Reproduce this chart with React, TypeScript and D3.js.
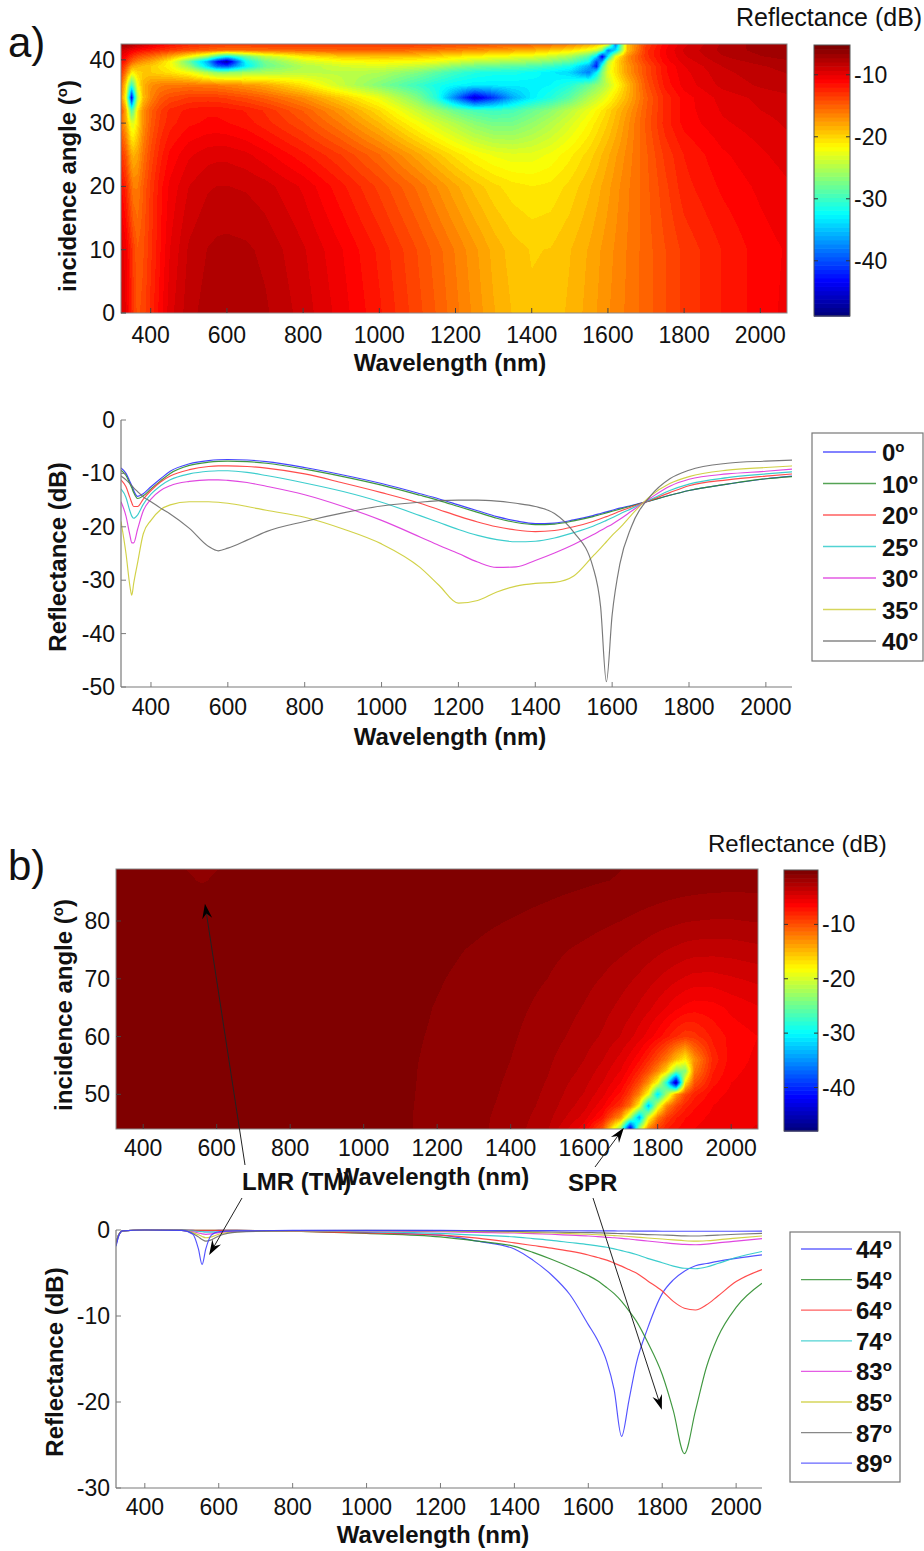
import React, { useMemo } from 'react';
import * as d3 from 'd3';

const FONT = "'Liberation Sans', Arial, Helvetica, sans-serif";

// ---------------- Panel a : line data (dB) ----------------
const WL_A = [322, 335, 345, 350, 355, 365, 380, 400, 425, 450, 500, 550, 575, 600, 650, 700, 800, 900, 1000, 1100, 1150, 1200, 1250, 1300, 1350, 1400, 1450, 1500, 1550, 1570, 1585, 1600, 1620, 1650, 1700, 1750, 1800, 1900, 2000, 2068];
const A_0 = [-9.0, -10.0, -11.5, -12.3, -13.2, -14.3, -13.8, -12.5, -11.0, -9.6, -8.2, -7.6, -7.45, -7.4, -7.5, -7.8, -8.9, -10.3, -11.9, -13.8, -14.8, -15.9, -17.0, -18.1, -18.9, -19.4, -19.3, -18.7, -17.9, -17.5, -17.2, -16.9, -16.5, -16.0, -15.1, -14.1, -13.2, -12.0, -11.0, -10.5];
const A_10 = [-9.4, -10.4, -11.9, -12.7, -13.6, -14.7, -14.2, -12.9, -11.4, -10.0, -8.5, -7.9, -7.75, -7.7, -7.8, -8.1, -9.2, -10.6, -12.2, -14.1, -15.1, -16.2, -17.3, -18.4, -19.2, -19.6, -19.5, -18.9, -18.1, -17.7, -17.4, -17.1, -16.7, -16.1, -15.1, -14.1, -13.2, -12.0, -11.0, -10.6];
const A_20 = [-11.2, -12.5, -14.5, -15.5, -16.2, -16.2, -14.8, -13.2, -11.6, -10.5, -9.3, -8.7, -8.6, -8.6, -8.7, -9.0, -10.1, -11.8, -13.6, -15.6, -16.8, -18.0, -19.1, -20.0, -20.6, -20.9, -20.7, -20.0, -19.0, -18.5, -18.1, -17.7, -17.1, -16.3, -15.0, -13.6, -12.3, -11.2, -10.5, -10.1];
const A_25 = [-12.9, -14.5, -17.0, -18.0, -18.4, -17.8, -15.8, -13.9, -12.3, -11.2, -10.1, -9.6, -9.5, -9.5, -9.8, -10.4, -11.8, -13.4, -15.4, -17.9, -19.2, -20.5, -21.6, -22.4, -22.8, -22.7, -22.1, -21.1, -19.9, -19.3, -18.8, -18.3, -17.6, -16.6, -14.9, -13.2, -12.0, -10.8, -10.1, -9.7];
const A_30 = [-15.3, -18.0, -21.5, -23.0, -23.0, -20.5, -17.0, -14.8, -13.2, -12.3, -11.5, -11.2, -11.2, -11.3, -11.7, -12.4, -14.0, -16.2, -18.8, -21.9, -23.5, -25.0, -26.6, -27.6, -27.5, -26.3, -24.9, -23.3, -21.5, -20.7, -20.1, -19.5, -18.6, -17.1, -14.6, -12.4, -11.1, -10.1, -9.6, -9.2];
const A_35 = [-19.0, -25.0, -31.0, -32.8, -30.6, -26.8, -21.3, -18.8, -16.8, -15.9, -15.3, -15.3, -15.4, -15.6, -16.2, -16.9, -18.2, -20.4, -23.2, -27.6, -31.0, -34.3, -33.8, -32.2, -31.1, -30.6, -30.4, -29.2, -25.5, -24.0, -22.8, -21.6, -20.2, -17.8, -14.2, -11.9, -10.6, -9.4, -8.9, -8.6];
const A_40 = [-10.5, -11.2, -11.9, -12.3, -12.7, -13.4, -14.4, -15.3, -16.5, -17.6, -20.3, -23.7, -24.5, -24.0, -22.5, -20.9, -19.0, -17.4, -16.1, -15.4, -15.1, -15.0, -15.0, -15.2, -15.6, -16.2, -17.5, -21.0, -27.5, -35.0, -49.0, -36.5, -27.0, -20.0, -14.2, -11.0, -9.4, -8.1, -7.7, -7.5];
const SERIES_A_LABELS = ['0', '10', '20', '25', '30', '35', '40'];
const SERIES_A_VALUES = [A_0, A_10, A_20, A_25, A_30, A_35, A_40];
const SERIES_A_COLORS = ['#3030ff', '#2a8c2a', '#ff3838', '#27c8c8', '#dd33dd', '#cccc33', '#6a6a6a'];

// ---------------- Panel a : heatmap rows above 30 deg (dB, on WL_A) ----------------
const HA_32 = [-14, -18, -26, -29, -27, -21, -17, -15, -13.5, -12.5, -11.8, -11.5, -11.5, -11.7, -12.1, -12.8, -14.8, -17.3, -20.2, -24.0, -26.0, -28.0, -29.5, -30.0, -29.5, -28.0, -26.5, -24.5, -22.5, -21.5, -20.8, -20.0, -19.0, -17.5, -14.8, -12.5, -11.0, -9.9, -9.3, -9.0];
const HA_34 = [-16, -22, -36, -44, -36, -25, -19, -16.5, -14.8, -14, -13.3, -13.2, -13.3, -13.5, -14.1, -14.9, -16.8, -19.5, -22.5, -27, -31, -38, -45, -41, -36, -33, -31, -28.5, -25, -24, -23, -22, -20.5, -18.5, -15, -12.5, -11, -9.7, -9.1, -8.8];
const HA_36 = [-15, -20, -28, -30, -28, -22, -18.5, -17, -16.3, -16, -15.8, -16, -16.2, -16.5, -17.2, -18, -20.5, -24, -27, -30, -31.5, -32.5, -33, -33, -33, -33, -32.5, -31, -28, -26.5, -25.5, -24, -22, -19, -14.5, -11.8, -10.4, -9.1, -8.5, -8.2];
const HA_38 = [-13, -16, -19, -21, -21, -20, -19.5, -19.5, -20, -20.5, -22, -25, -26.5, -26.5, -25.5, -25, -24.5, -24.5, -25, -27, -28.5, -30, -31, -31.5, -31.5, -32, -33, -34, -38, -33, -27, -23, -20.5, -17.5, -14, -11.5, -10.2, -8.8, -8.2, -7.9];
const HA_39 = [-12, -14, -16.5, -17.5, -18, -18.5, -19, -19.5, -20.5, -21.5, -26, -34, -39, -40, -33, -28, -25, -23.5, -23, -24, -25, -26.5, -27.5, -28, -28.5, -29, -30, -31.5, -36, -42, -30, -23.5, -20.5, -17.5, -14, -11.5, -10, -8.6, -8, -7.7];
const HA_39_7 = [-11, -12.5, -14, -14.8, -15.5, -16.3, -17.2, -18, -19.5, -21.5, -28, -36, -43, -47, -32, -27.5, -23.5, -22, -21.5, -22, -22.5, -23.5, -24.5, -25, -25.5, -26, -27, -28.5, -32, -40, -36, -25, -20.5, -17, -13.5, -11, -9.7, -8.3, -7.7, -7.4];
const HA_40_5 = [-10, -11, -12.3, -12.8, -13.3, -14, -14.8, -15.5, -16.7, -18, -21.5, -26, -30, -33, -28, -24.5, -21, -19.5, -19, -19.5, -20, -20.8, -21.5, -22, -22.5, -23, -24, -25.5, -29, -34, -44, -33, -22, -17, -13, -10.8, -9.4, -8, -7.3, -7];
const HA_41_5 = [-9, -9.5, -10, -10.3, -10.6, -11, -11.5, -12, -12.7, -13.3, -14.3, -15, -15.5, -15.8, -15.8, -15.5, -15.2, -15, -15, -15.5, -16, -16.5, -17, -17.5, -18, -18.5, -19.5, -20.5, -22.5, -24, -27, -38, -34, -19, -13, -10.7, -9.2, -7.7, -7, -6.7];
const HA_42_5 = [-6.5, -6.8, -7.2, -7.5, -7.8, -8.2, -8.8, -9.5, -10.5, -11.3, -12.3, -12.8, -13, -13, -13, -13, -13, -13, -13, -13.2, -13.4, -13.6, -13.8, -14, -14.2, -14.5, -15, -15.8, -17.5, -18.5, -19.5, -21, -38, -19, -13.5, -11, -9.5, -7.8, -6.9, -6.5];
const HA_ANGLES = [0, 10, 20, 25, 30, 32, 34, 36, 38, 39, 39.7, 40.5, 41.5, 42.5];
const HA_ROWS = [A_0, A_10, A_20, A_25, A_30, HA_32, HA_34, HA_36, HA_38, HA_39, HA_39_7, HA_40_5, HA_41_5, HA_42_5];

// ---------------- Panel b : line data (dB) ----------------
const WL_B = [322, 330, 340, 400, 500, 530, 545, 555, 565, 580, 600, 650, 800, 1000, 1200, 1300, 1400, 1450, 1500, 1550, 1600, 1625, 1650, 1670, 1690, 1710, 1730, 1760, 1800, 1830, 1860, 1890, 1920, 1950, 2000, 2070];
const B_44 = [-1.8, -0.6, -0.1, 0, 0, -0.05, -0.1, -0.1, -0.1, -0.1, -0.05, -0.05, -0.1, -0.3, -0.6, -1.3, -2.2, -3.5, -5.2, -7.5, -11.0, -12.8, -15.3, -18.6, -24.0, -19.8, -15.5, -11.5, -7.4, -5.8, -4.8, -4.15, -3.9, -3.65, -3.3, -2.9];
const B_54 = [-1.6, -0.5, -0.1, 0, 0, -0.05, -0.05, -0.05, -0.05, -0.05, -0.05, -0.05, -0.15, -0.4, -0.8, -1.3, -1.9, -2.6, -3.4, -4.3, -5.3, -5.9, -6.7, -7.4, -8.3, -9.4, -10.6, -13.0, -16.8, -21.0, -26.0, -21.0, -15.9, -12.5, -9.0, -6.2];
const B_64 = [-1.6, -0.5, -0.1, 0, 0, -0.05, -0.05, -0.05, -0.05, -0.05, -0.05, -0.05, -0.15, -0.35, -0.6, -0.95, -1.5, -1.8, -2.1, -2.45, -2.9, -3.2, -3.5, -3.85, -4.2, -4.6, -5.0, -5.9, -7.1, -8.3, -9.1, -9.3, -8.7, -7.7, -6.0, -4.6];
const B_74 = [-1.5, -0.5, -0.1, 0, 0, -0.1, -0.15, -0.2, -0.25, -0.25, -0.2, -0.1, -0.1, -0.2, -0.4, -0.6, -0.8, -1.0, -1.2, -1.45, -1.7, -1.85, -2.0, -2.2, -2.4, -2.6, -2.85, -3.3, -3.8, -4.2, -4.45, -4.5, -4.3, -3.9, -3.2, -2.5];
const B_83 = [-1.5, -0.5, -0.1, 0, -0.05, -0.2, -0.35, -0.45, -0.5, -0.45, -0.3, -0.15, -0.1, -0.1, -0.2, -0.28, -0.35, -0.42, -0.5, -0.6, -0.7, -0.77, -0.85, -0.9, -0.97, -1.05, -1.15, -1.28, -1.45, -1.58, -1.68, -1.72, -1.65, -1.5, -1.3, -1.0];
const B_85 = [-1.5, -0.5, -0.1, 0, -0.05, -0.3, -0.55, -0.75, -0.9, -0.8, -0.5, -0.2, -0.1, -0.08, -0.12, -0.18, -0.25, -0.3, -0.35, -0.42, -0.5, -0.55, -0.6, -0.65, -0.7, -0.76, -0.83, -0.93, -1.05, -1.15, -1.25, -1.3, -1.25, -1.15, -0.95, -0.7];
const B_87 = [-1.5, -0.5, -0.1, 0, -0.05, -0.4, -0.8, -1.1, -1.3, -1.15, -0.7, -0.25, -0.08, -0.05, -0.08, -0.12, -0.16, -0.2, -0.23, -0.27, -0.3, -0.33, -0.36, -0.39, -0.42, -0.45, -0.48, -0.53, -0.58, -0.63, -0.68, -0.7, -0.66, -0.6, -0.5, -0.4];
const B_89 = [-1.9, -0.6, -0.1, 0, -0.05, -0.5, -2.2, -4.0, -2.2, -0.6, -0.2, -0.1, -0.05, -0.05, -0.05, -0.06, -0.07, -0.08, -0.08, -0.09, -0.1, -0.1, -0.11, -0.11, -0.12, -0.12, -0.13, -0.13, -0.14, -0.14, -0.15, -0.15, -0.15, -0.15, -0.14, -0.13];
const SERIES_B_LABELS = ['44', '54', '64', '74', '83', '85', '87', '89'];
const SERIES_B_VALUES = [B_44, B_54, B_64, B_74, B_83, B_85, B_87, B_89];
const SERIES_B_COLORS = ['#4040ff', '#2a8c2a', '#ff3838', '#27c8c8', '#dd33dd', '#cccc33', '#6a6a6a', '#4040ff'];

// ---------------- Panel b : heatmap grid (dB) ----------------
const HB_WL = [325, 450, 520, 560, 600, 700, 900, 1100, 1200, 1300, 1400, 1500, 1600, 1650, 1700, 1725, 1750, 1775, 1800, 1825, 1850, 1875, 1900, 1950, 2000, 2073];
const HB_44 = [-0.3, -0.2, -0.2, -0.2, -0.2, -0.2, -0.3, -0.65, -0.95, -1.3, -1.8, -2.9, -5.8, -10, -24, -45, -22, -12, -9, -7.5, -6.8, -6.3, -6, -5.6, -5.4, -5.2];
const HB_46 = [-0.3, -0.2, -0.2, -0.2, -0.2, -0.2, -0.3, -0.65, -0.95, -1.3, -1.75, -2.7, -4.8, -7, -13, -22, -34, -19, -12, -9, -7.6, -6.8, -6.3, -5.8, -5.5, -5.3];
const HB_48 = [-0.3, -0.2, -0.2, -0.2, -0.2, -0.2, -0.3, -0.65, -0.92, -1.25, -1.7, -2.5, -4.2, -5.8, -8.5, -11.5, -18, -33, -20, -12.5, -9.5, -7.8, -6.9, -6, -5.6, -5.4];
const HB_50 = [-0.3, -0.2, -0.2, -0.2, -0.2, -0.2, -0.3, -0.65, -0.9, -1.2, -1.65, -2.4, -3.8, -5, -7, -9, -12.5, -18.5, -31, -22, -13.5, -9.5, -7.8, -6.3, -5.8, -5.5];
const HB_52 = [-0.3, -0.2, -0.2, -0.2, -0.2, -0.2, -0.3, -0.65, -0.88, -1.18, -1.6, -2.3, -3.5, -4.5, -6, -7.5, -9.5, -13, -18.5, -29, -46, -17, -10, -7, -6, -5.6];
const HB_54 = [-0.3, -0.2, -0.2, -0.2, -0.2, -0.2, -0.3, -0.65, -0.87, -1.15, -1.55, -2.2, -3.2, -4.1, -5.3, -6.4, -7.8, -9.8, -12.5, -16.5, -24, -24, -12, -7.6, -6.2, -5.7];
const HB_56 = [-0.3, -0.2, -0.2, -0.2, -0.2, -0.2, -0.3, -0.65, -0.85, -1.12, -1.5, -2.1, -3, -3.7, -4.8, -5.6, -6.6, -8, -9.8, -12, -15, -17.5, -13, -8, -6.4, -5.8];
const HB_60 = [-0.3, -0.2, -0.2, -0.2, -0.2, -0.2, -0.3, -0.62, -0.82, -1.05, -1.4, -1.9, -2.6, -3.1, -3.8, -4.3, -4.9, -5.6, -6.4, -7.3, -8.2, -8.8, -8.6, -7.3, -6.5, -6];
const HB_65 = [-0.3, -0.2, -0.2, -0.2, -0.2, -0.2, -0.3, -0.55, -0.78, -1.0, -1.3, -1.7, -2.3, -2.7, -3.2, -3.5, -3.9, -4.3, -4.8, -5.3, -5.8, -6.2, -6.4, -6.3, -5.8, -5.3];
const HB_70 = [-0.3, -0.2, -0.2, -0.2, -0.2, -0.2, -0.3, -0.45, -0.7, -0.92, -1.2, -1.5, -2.0, -2.3, -2.7, -2.9, -3.15, -3.45, -3.75, -4.05, -4.35, -4.6, -4.8, -4.8, -4.6, -4.3];
const HB_75 = [-0.3, -0.2, -0.2, -0.2, -0.2, -0.2, -0.3, -0.4, -0.6, -0.8, -1.05, -1.3, -1.65, -1.85, -2.1, -2.25, -2.4, -2.6, -2.8, -3.0, -3.15, -3.3, -3.4, -3.45, -3.4, -3.2];
const HB_80 = [-0.3, -0.2, -0.2, -0.2, -0.2, -0.2, -0.3, -0.3, -0.45, -0.6, -0.77, -0.95, -1.2, -1.35, -1.5, -1.6, -1.7, -1.8, -1.9, -2.0, -2.1, -2.2, -2.25, -2.3, -2.3, -2.2];
const HB_85 = [-0.3, -0.2, -0.25, -0.3, -0.25, -0.2, -0.2, -0.2, -0.3, -0.4, -0.52, -0.65, -0.8, -0.9, -1.0, -1.05, -1.1, -1.16, -1.22, -1.28, -1.33, -1.38, -1.42, -1.48, -1.5, -1.48];
const HB_87 = [-0.3, -0.25, -0.5, -0.9, -0.5, -0.2, -0.15, -0.15, -0.22, -0.3, -0.4, -0.52, -0.65, -0.72, -0.8, -0.85, -0.9, -0.95, -1.0, -1.05, -1.1, -1.13, -1.16, -1.2, -1.22, -1.2];
const HB_89 = [-0.3, -0.3, -0.8, -1.2, -0.8, -0.25, -0.12, -0.12, -0.18, -0.25, -0.33, -0.43, -0.55, -0.65, -0.74, -0.78, -0.82, -0.86, -0.9, -0.94, -0.97, -1.0, -1.02, -1.05, -1.06, -1.05];
const HB_ANGLES = [44, 46, 48, 50, 52, 54, 56, 60, 65, 70, 75, 80, 85, 87, 89];
const HB_ROWS = [HB_44, HB_46, HB_48, HB_50, HB_52, HB_54, HB_56, HB_60, HB_65, HB_70, HB_75, HB_80, HB_85, HB_87, HB_89];

// ---------------- ticks ----------------
const X_TICKS = [400, 600, 800, 1000, 1200, 1400, 1600, 1800, 2000];
const HA_Y_TICKS = [0, 10, 20, 30, 40];
const LA_Y_TICKS = [0, -10, -20, -30, -40, -50];
const HB_Y_TICKS = [50, 60, 70, 80];
const LB_Y_TICKS = [0, -10, -20, -30];
const CB_TICKS = [-10, -20, -30, -40];
const CB_A_DOMAIN: [number, number] = [-48.9, -5.2];
const CB_B_DOMAIN: [number, number] = [-48, 0];

// ---------------- scales ----------------
const xHA = d3.scaleLinear().domain([322, 2070]).range([121, 787]);
const yHA = d3.scaleLinear().domain([0, 42.5]).range([313, 44]);
const xLA = d3.scaleLinear().domain([322, 2068]).range([121, 792]);
const yLA = d3.scaleLinear().domain([-50, 0]).range([687, 420]);
const xHB = d3.scaleLinear().domain([326, 2073]).range([116, 758]);
const yHB = d3.scaleLinear().domain([44, 89]).range([1129, 869]);
const xLB = d3.scaleLinear().domain([322, 2070]).range([116, 762]);
const yLB = d3.scaleLinear().domain([-30, 0]).range([1488, 1230]);
const cA = d3.scaleLinear().domain(CB_A_DOMAIN).range([316, 45]);
const cB = d3.scaleLinear().domain(CB_B_DOMAIN).range([1131, 870]);

// jet colormap, 64 levels
function jet(t: number) {
  const c = (v: number) => Math.max(0, Math.min(1, v));
  return {
    r: Math.round(255 * c(Math.min(4 * t - 1.5, -4 * t + 4.5))),
    g: Math.round(255 * c(Math.min(4 * t - 0.5, -4 * t + 3.5))),
    b: Math.round(255 * c(Math.min(4 * t + 0.5, -4 * t + 2.5))),
  };
}
const JET_RGB = d3.range(64).map((k) => jet(k / 63));
const JET_HEX = JET_RGB.map((c) => d3.rgb(c.r, c.g, c.b).formatHex());

function sampleGrid(xs: number[], ys: number[], rows: number[][], x: number, y: number) {
  const i = Math.max(0, Math.min(xs.length - 2, d3.bisectRight(xs, x) - 1));
  const j = Math.max(0, Math.min(ys.length - 2, d3.bisectRight(ys, y) - 1));
  const tx = Math.max(0, Math.min(1, (x - xs[i]) / (xs[i + 1] - xs[i])));
  const ty = Math.max(0, Math.min(1, (y - ys[j]) / (ys[j + 1] - ys[j])));
  const a = rows[j][i] * (1 - tx) + rows[j][i + 1] * tx;
  const b = rows[j + 1][i] * (1 - tx) + rows[j + 1][i + 1] * tx;
  return a * (1 - ty) + b * ty;
}

function HeatImage({ xs, ys, rows, x, y, domain }: any) {
  const [x0, x1] = x.range();
  const [yb, yt] = y.range();
  const w = Math.round(x1 - x0);
  const h = Math.round(yb - yt);
  const href = useMemo(() => {
    const canvas = document.createElement('canvas');
    canvas.width = w;
    canvas.height = h;
    const ctx = canvas.getContext('2d');
    if (!ctx) return '';
    const img = ctx.createImageData(w, h);
    const q = d3.scaleQuantize<number>().domain(domain).range(d3.range(64));
    for (let py = 0; py < h; py++) {
      const th = y.invert(yt + py + 0.5);
      for (let px = 0; px < w; px++) {
        const lam = x.invert(x0 + px + 0.5);
        const c = JET_RGB[q(sampleGrid(xs, ys, rows, lam, th))];
        const o = (py * w + px) * 4;
        img.data[o] = c.r;
        img.data[o + 1] = c.g;
        img.data[o + 2] = c.b;
        img.data[o + 3] = 255;
      }
    }
    ctx.putImageData(img, 0, 0);
    return canvas.toDataURL('image/png');
  }, [xs, ys, rows, w, h]);
  return <image href={href} x={x0} y={yt} width={w} height={h} preserveAspectRatio="none" />;
}

const AXIS = '#7a7a7a';

function XAxis({ x, y0, ticks, labelY, tickColor = AXIS, drawLine = true }: any) {
  const [r0, r1] = x.range();
  return (
    <g>
      {drawLine && <line x1={r0} x2={r1} y1={y0} y2={y0} stroke={AXIS} strokeWidth={1.2} />}
      {ticks.map((t: number) => (
        <g key={t}>
          <line x1={x(t)} x2={x(t)} y1={y0} y2={y0 - 5} stroke={tickColor} strokeWidth={1} />
          <text x={x(t)} y={labelY} textAnchor="middle" fontSize={23} fill="#111">{t}</text>
        </g>
      ))}
    </g>
  );
}

function YAxis({ y, x0, ticks, labelX, tickColor = AXIS, drawLine = true }: any) {
  const [r0, r1] = y.range();
  return (
    <g>
      {drawLine && <line x1={x0} x2={x0} y1={r0} y2={r1} stroke={AXIS} strokeWidth={1.2} />}
      {ticks.map((t: number) => (
        <g key={t}>
          <line x1={x0} x2={x0 + 5} y1={y(t)} y2={y(t)} stroke={tickColor} strokeWidth={1} />
          <text x={labelX} y={y(t) + 8} textAnchor="end" fontSize={23} fill="#111">{t}</text>
        </g>
      ))}
    </g>
  );
}

function Colorbar({ c, x0, width, domain, ticks, labelX }: any) {
  const [lo, hi] = domain;
  const step = (hi - lo) / 64;
  return (
    <g>
      {JET_HEX.map((col, k) => {
        const ya = c(lo + (k + 1) * step);
        const yb = c(lo + k * step);
        return <rect key={k} x={x0} y={ya} width={width} height={yb - ya + 0.6} fill={col} />;
      })}
      <rect x={x0} y={c(hi)} width={width} height={c(lo) - c(hi)} fill="none" stroke="#555" strokeWidth={1} />
      {ticks.map((t: number) => (
        <g key={t}>
          <line x1={x0} x2={x0 + 4} y1={c(t)} y2={c(t)} stroke="#333" />
          <line x1={x0 + width} x2={x0 + width - 4} y1={c(t)} y2={c(t)} stroke="#333" />
          <text x={labelX} y={c(t) + 8} fontSize={23} fill="#111">{t}</text>
        </g>
      ))}
    </g>
  );
}

function Lines({ wl, values, colors, x, y, clipId }: any) {
  const [x0, x1] = x.range();
  const [yb, yt] = y.range();
  const gen = d3
    .line<number>()
    .x((_, i) => x(wl[i]))
    .y((d) => y(d))
    .curve(d3.curveMonotoneX);
  return (
    <g>
      <clipPath id={clipId}>
        <rect x={x0} y={yt - 2} width={x1 - x0} height={yb - yt + 2} />
      </clipPath>
      <g clipPath={`url(#${clipId})`}>
        {values.map((v: number[], k: number) => (
          <path key={k} d={gen(v) || ''} fill="none" stroke={colors[k]} strokeWidth={1.15} strokeOpacity={0.9} />
        ))}
      </g>
    </g>
  );
}

function Legend({ x, y, w, h, labels, colors, y0, step, lx0, lx1, tx }: any) {
  return (
    <g>
      <rect x={x} y={y} width={w} height={h} fill="#fff" stroke="#777" strokeWidth={1.2} />
      {labels.map((lab: string, k: number) => (
        <g key={k}>
          <line x1={lx0} x2={lx1} y1={y0 + k * step} y2={y0 + k * step} stroke={colors[k]} strokeWidth={1.3} strokeOpacity={0.8} />
          <text x={tx} y={y0 + k * step + 9} fontSize={24} fontWeight="bold" fill="#111">
            {lab}
            <tspan fontSize={15} dy={-9}>o</tspan>
          </text>
        </g>
      ))}
    </g>
  );
}

function Arrow({ x1, y1, x2, y2 }: any) {
  const a = Math.atan2(y2 - y1, x2 - x1);
  const cos = Math.cos(a);
  const sin = Math.sin(a);
  const L = 15;
  const W = 5;
  const N = 10;
  const pts = [
    [0, 0],
    [-L, -W],
    [-N, 0],
    [-L, W],
  ].map(([px, py]) => [x2 + px * cos - py * sin, y2 + px * sin + py * cos]);
  return (
    <g>
      <line x1={x1} y1={y1} x2={x2 - N * cos} y2={y2 - N * sin} stroke="#222" strokeWidth={1} />
      <polygon points={pts.map((p) => p.join(',')).join(' ')} fill="#000" />
    </g>
  );
}

function AngleTitle({ x, y }: any) {
  return (
    <text transform={`translate(${x},${y}) rotate(-90)`} textAnchor="middle" fontSize={24} fontWeight="bold" fill="#111">
      incidence angle (<tspan fontSize={15} dy={-9}>o</tspan>
      <tspan fontSize={24} dy={9}>)</tspan>
    </text>
  );
}

export default function App() {
  return (
    <svg
      width={924}
      height={1551}
      viewBox="0 0 924 1551"
      style={{ position: 'absolute', left: 0, top: 0, background: '#fff' }}
      fontFamily={FONT}
    >
      <rect x={0} y={0} width={924} height={1551} fill="#fff" />

      {/* ---------------- panel a ---------------- */}
      <text x={8} y={57} fontSize={42} fill="#111">a)</text>
      <HeatImage xs={WL_A} ys={HA_ANGLES} rows={HA_ROWS} x={xHA} y={yHA} domain={CB_A_DOMAIN} />
      <rect x={121} y={44} width={666} height={269} fill="none" stroke="#888" strokeWidth={1} />
      <XAxis x={xHA} y0={313} ticks={X_TICKS} labelY={343} tickColor="#444" drawLine={false} />
      <YAxis y={yHA} x0={121} ticks={HA_Y_TICKS} labelX={115} tickColor="#444" drawLine={false} />
      <text x={450} y={371} textAnchor="middle" fontSize={24} fontWeight="bold" fill="#111">Wavelength (nm)</text>
      <AngleTitle x={76} y={186} />
      <text x={736} y={26} fontSize={25} fill="#111">Reflectance (dB)</text>
      <Colorbar c={cA} x0={814} width={36} domain={CB_A_DOMAIN} ticks={CB_TICKS} labelX={854} />

      <Lines wl={WL_A} values={SERIES_A_VALUES} colors={SERIES_A_COLORS} x={xLA} y={yLA} clipId="clipLA" />
      <XAxis x={xLA} y0={687} ticks={X_TICKS} labelY={715} />
      <YAxis y={yLA} x0={121} ticks={LA_Y_TICKS} labelX={115} />
      <text x={450} y={745} textAnchor="middle" fontSize={24} fontWeight="bold" fill="#111">Wavelength (nm)</text>
      <text transform="translate(66,557) rotate(-90)" textAnchor="middle" fontSize={24} fontWeight="bold" fill="#111">Reflectance (dB)</text>
      <Legend x={812} y={433} w={111} h={228} labels={SERIES_A_LABELS} colors={SERIES_A_COLORS} y0={452} step={31.5} lx0={823} lx1={876} tx={882} />

      {/* ---------------- panel b ---------------- */}
      <text x={8} y={880} fontSize={42} fill="#111">b)</text>
      <HeatImage xs={HB_WL} ys={HB_ANGLES} rows={HB_ROWS} x={xHB} y={yHB} domain={CB_B_DOMAIN} />
      <rect x={116} y={869} width={642} height={260} fill="none" stroke="#888" strokeWidth={1} />
      <XAxis x={xHB} y0={1129} ticks={X_TICKS} labelY={1156} tickColor="#444" drawLine={false} />
      <YAxis y={yHB} x0={116} ticks={HB_Y_TICKS} labelX={110} tickColor="#444" drawLine={false} />
      <text x={433} y={1185} textAnchor="middle" fontSize={24} fontWeight="bold" fill="#111">Wavelength (nm)</text>
      <AngleTitle x={72} y={1005} />
      <text x={708} y={852} fontSize={24} fill="#111">Reflectance (dB)</text>
      <Colorbar c={cB} x0={784} width={34} domain={CB_B_DOMAIN} ticks={CB_TICKS} labelX={822} />

      <Lines wl={WL_B} values={SERIES_B_VALUES} colors={SERIES_B_COLORS} x={xLB} y={yLB} clipId="clipLB" />
      <XAxis x={xLB} y0={1488} ticks={X_TICKS} labelY={1515} />
      <YAxis y={yLB} x0={116} ticks={LB_Y_TICKS} labelX={110} />
      <text x={433} y={1543} textAnchor="middle" fontSize={24} fontWeight="bold" fill="#111">Wavelength (nm)</text>
      <text transform="translate(63,1362) rotate(-90)" textAnchor="middle" fontSize={24} fontWeight="bold" fill="#111">Reflectance (dB)</text>
      <Legend x={790} y={1232} w={110} h={250} labels={SERIES_B_LABELS} colors={SERIES_B_COLORS} y0={1249} step={30.6} lx0={801} lx1={852} tx={856} />

      {/* annotations */}
      <text x={242} y={1190} fontSize={24} fontWeight="bold" fill="#111">LMR (TM)</text>
      <text x={568} y={1191} fontSize={24} fontWeight="bold" fill="#111">SPR</text>
      <Arrow x1={245} y1={1165} x2={xHB(568)} y2={yHB(83)} />
      <Arrow x1={242} y1={1198} x2={xLB(574)} y2={yLB(-2.9)} />
      <Arrow x1={595} y1={1167} x2={xHB(1708)} y2={yHB(44.2)} />
      <Arrow x1={593} y1={1198} x2={xLB(1799)} y2={yLB(-20.9)} />
    </svg>
  );
}
